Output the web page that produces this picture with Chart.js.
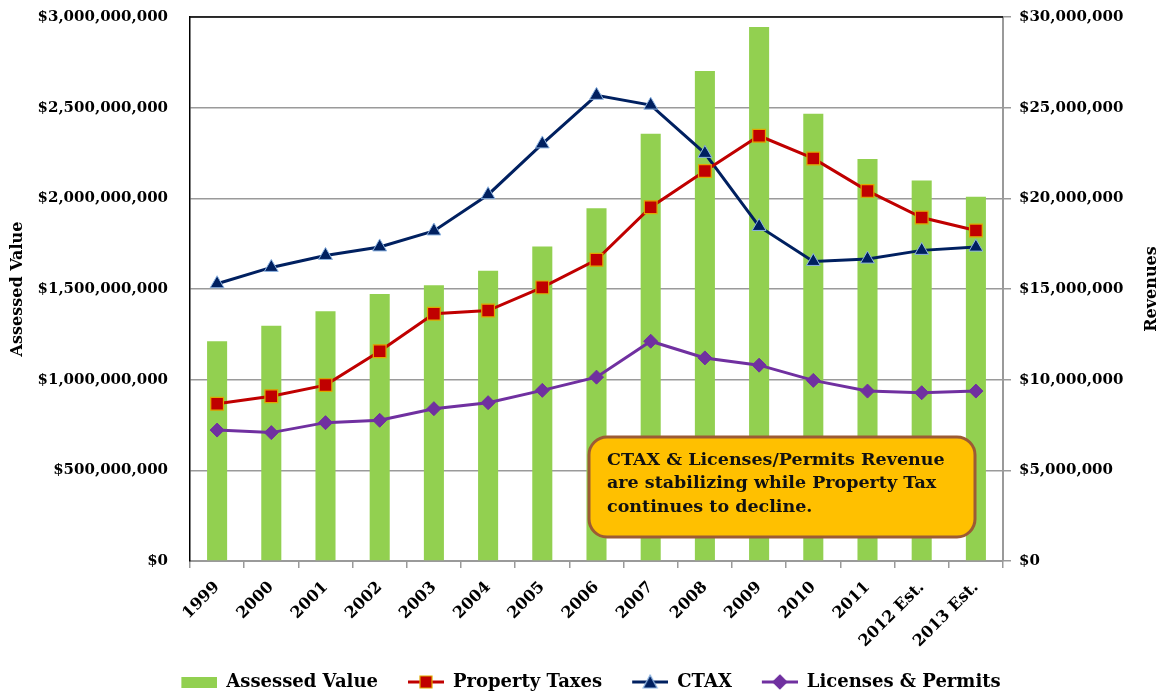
<!DOCTYPE html>
<html>
<head>
<meta charset="utf-8">
<title>Assessed Value and Revenues</title>
<script src="https://cdn.jsdelivr.net/npm/chart.js@4"></script>
<style>
  html, body { margin: 0; padding: 0; background: #fff; }
  #wrap { width: 1166px; height: 695px; position: relative; }
</style>
</head>
<body>
<div id="wrap"><canvas id="revChart"></canvas></div>
<script>
// data
const years = ['1999', '2000', '2001', '2002', '2003', '2004', '2005', '2006', '2007', '2008', '2009', '2010', '2011', '2012 Est.', '2013 Est.'];
const assessedValue = [1212000000, 1298000000, 1377000000, 1473000000, 1520000000, 1601000000, 1735000000, 1945000000, 2356000000, 2702000000, 2945000000, 2467000000, 2217000000, 2099000000, 2009000000];
const propertyTaxes = [8670000, 9090000, 9700000, 11570000, 13640000, 13810000, 15090000, 16610000, 19510000, 21510000, 23450000, 22200000, 20410000, 18940000, 18230000];
const ctax = [15290000, 16190000, 16850000, 17320000, 18200000, 20200000, 23000000, 25680000, 25140000, 22480000, 18450000, 16520000, 16650000, 17130000, 17310000];
const licensesPermits = [7220000, 7080000, 7630000, 7760000, 8400000, 8730000, 9410000, 10140000, 12120000, 11200000, 10800000, 9960000, 9370000, 9280000, 9370000];

const leftTicks = [0, 500000000, 1000000000, 1500000000, 2000000000, 2500000000, 3000000000];
const rightTicks = [0, 5000000, 10000000, 15000000, 20000000, 25000000, 30000000];

const noteLines = ['CTAX & Licenses/Permits Revenue', 'are stabilizing while Property Tax', 'continues to decline.'];

const SERIF = "'DejaVu Serif', 'Liberation Serif', serif";
Chart.defaults.font.family = SERIF;
Chart.defaults.color = '#000';

const GREEN = '#92D050';
const RED = '#C00000';
const NAVY = '#002060';
const PURPLE = '#7030A0';
const GRID = '#9a9a9a';

function money(v) {
  return '$' + Number(v).toLocaleString('en-US');
}

// little line+marker pictures for the legend (empty strip on the left = gap between items)
const ICON_W = 52;
function legendIcon(kind, color, edge) {
  const c = document.createElement('canvas');
  c.width = ICON_W; c.height = 16;
  const g = c.getContext('2d');
  g.translate(ICON_W - 36, 0);
  if (kind === 'bar') {
    g.fillStyle = color;
    g.fillRect(0, 3, 36, 11);
    return c;
  }
  g.strokeStyle = color;
  g.lineWidth = 3;
  g.beginPath(); g.moveTo(0, 8); g.lineTo(36, 8); g.stroke();
  g.fillStyle = color;
  g.strokeStyle = edge;
  g.lineWidth = 1.2;
  g.beginPath();
  if (kind === 'rect') {
    g.rect(12, 2, 12, 12);
  } else if (kind === 'triangle') {
    g.moveTo(18, 1); g.lineTo(25, 14); g.lineTo(11, 14); g.closePath();
  } else {
    g.moveTo(18, 1); g.lineTo(25, 8); g.lineTo(18, 15); g.lineTo(11, 8); g.closePath();
  }
  g.fill(); g.stroke();
  return c;
}

const icons = [
  legendIcon('bar', GREEN),
  legendIcon('rect', RED, '#E0A800'),
  legendIcon('triangle', NAVY, '#8DB4E2'),
  legendIcon('diamond', PURPLE, PURPLE)
];

// axis titles (both read bottom-to-top), top frame line and the note box
const extras = {
  id: 'extras',
  beforeDatasetsDraw(chart) {
    const { ctx, chartArea: a } = chart;
    ctx.save();
    ctx.strokeStyle = '#000';
    ctx.lineWidth = 1.5;
    ctx.beginPath();
    ctx.moveTo(a.left, a.top);
    ctx.lineTo(a.right, a.top);
    ctx.stroke();
    ctx.restore();
  },
  afterDraw(chart) {
    const { ctx, chartArea: a } = chart;
    const midY = (a.top + a.bottom) / 2;
    ctx.save();
    ctx.fillStyle = '#000';
    ctx.font = 'bold 16px ' + SERIF;
    ctx.textAlign = 'center';
    ctx.textBaseline = 'middle';
    [['Assessed Value', 18], ['Revenues', 1152]].forEach(function (t) {
      ctx.save();
      ctx.translate(t[1], midY);
      ctx.rotate(-Math.PI / 2);
      ctx.fillText(t[0], 0, 0);
      ctx.restore();
    });

    // note box
    const bx = 589, by = 437, bw = 386, bh = 100;
    ctx.beginPath();
    ctx.roundRect(bx, by, bw, bh, 18);
    ctx.fillStyle = '#FFC000';
    ctx.fill();
    ctx.lineWidth = 3;
    ctx.strokeStyle = '#9C5B34';
    ctx.stroke();
    ctx.fillStyle = '#111';
    ctx.font = 'bold 17.5px ' + SERIF;
    ctx.textAlign = 'left';
    noteLines.forEach(function (line, i) {
      ctx.fillText(line, bx + 18, by + 23 + i * 23.5);
    });
    ctx.restore();
  }
};

const ctx = document.getElementById('revChart');
new Chart(ctx, {
  type: 'bar',
  data: {
    labels: years,
    datasets: [
      {
        type: 'bar',
        label: 'Assessed Value',
        data: assessedValue,
        yAxisID: 'y',
        backgroundColor: GREEN,
        borderWidth: 0,
        categoryPercentage: 1,
        barPercentage: 0.37,
        order: 4
      },
      {
        type: 'line',
        label: 'Property Taxes',
        data: propertyTaxes,
        yAxisID: 'y1',
        borderColor: RED,
        borderWidth: 3,
        pointStyle: 'rect',
        pointRadius: 9,
        pointBackgroundColor: RED,
        pointBorderColor: '#E0A800',
        pointBorderWidth: 1.2,
        tension: 0,
        order: 1
      },
      {
        type: 'line',
        label: 'CTAX',
        data: ctax,
        yAxisID: 'y1',
        borderColor: NAVY,
        borderWidth: 3,
        pointStyle: 'triangle',
        pointRadius: 8,
        pointBackgroundColor: NAVY,
        pointBorderColor: '#8DB4E2',
        pointBorderWidth: 1,
        tension: 0,
        order: 2
      },
      {
        type: 'line',
        label: 'Licenses & Permits',
        data: licensesPermits,
        yAxisID: 'y1',
        borderColor: PURPLE,
        borderWidth: 3,
        pointStyle: 'rectRot',
        pointRadius: 7,
        pointBackgroundColor: PURPLE,
        pointBorderColor: PURPLE,
        pointBorderWidth: 1,
        tension: 0,
        order: 3
      }
    ]
  },
  options: {
    responsive: true,
    maintainAspectRatio: false,
    animation: false,
    layout: { padding: { top: 0, left: 0, right: 0, bottom: -6 } },
    plugins: {
      tooltip: { enabled: false },
      legend: {
        position: 'bottom',
        labels: {
          usePointStyle: true,
          pointStyleWidth: ICON_W,
          boxHeight: 16,
          padding: 14,
          color: '#000',
          font: { size: 18, weight: 'bold' },
          generateLabels(chart) {
            const items = Chart.defaults.plugins.legend.labels.generateLabels(chart);
            items.forEach(function (it) {
              it.pointStyle = icons[it.datasetIndex];
            });
            items.sort(function (p, q) { return p.datasetIndex - q.datasetIndex; });
            return items;
          }
        }
      }
    },
    scales: {
      x: {
        grid: { drawOnChartArea: false, tickLength: 7, color: GRID, lineWidth: 1.5 },
        border: { color: GRID, width: 2 },
        ticks: {
          minRotation: 45,
          maxRotation: 45,
          padding: 10,
          font: { size: 16, weight: 'bold' }
        },
        afterFit(scale) { scale.height = 98; }
      },
      y: {
        position: 'left',
        min: 0,
        max: 3000000000,
        afterBuildTicks(scale) { scale.ticks = leftTicks.map(v => ({ value: v })); },
        grid: { color: GRID, lineWidth: 1.5, drawTicks: true, tickLength: 22, tickColor: 'rgba(0,0,0,0)' },
        border: { color: '#000', width: 1.5 },
        ticks: {
          padding: 0,
          font: { size: 15, weight: 'bold' },
          callback: money
        },
        afterFit(scale) { scale.width = 190; }
      },
      y1: {
        position: 'right',
        min: 0,
        max: 30000000,
        afterBuildTicks(scale) { scale.ticks = rightTicks.map(v => ({ value: v })); },
        grid: { drawOnChartArea: false, tickLength: 8, color: GRID, lineWidth: 1.5 },
        border: { color: GRID, width: 2 },
        ticks: {
          padding: 8,
          font: { size: 15, weight: 'bold' },
          callback: money
        },
        afterFit(scale) { scale.width = 163; }
      }
    }
  },
  plugins: [extras]
});
</script>
</body>
</html>
